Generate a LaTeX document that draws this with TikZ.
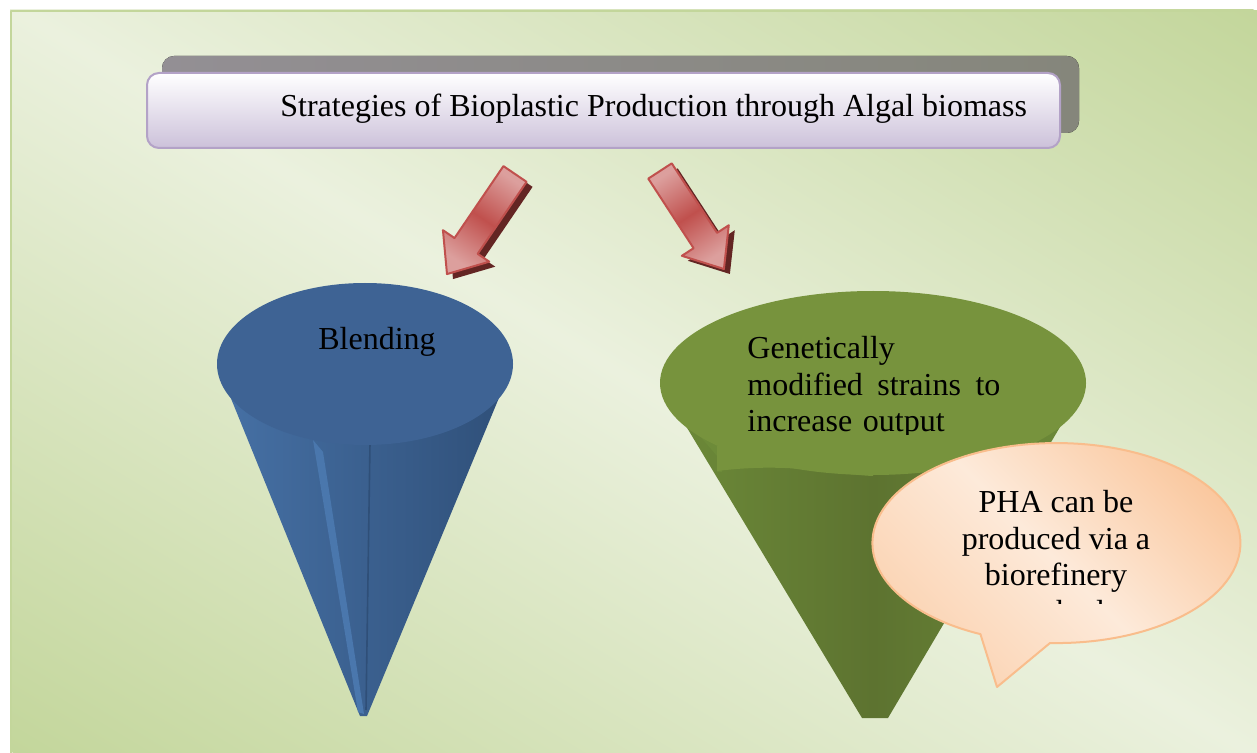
\documentclass[tikz,border=0pt]{standalone}
\usepackage{fontspec}
\setmainfont{Liberation Serif}
\usepackage{tikz}
\usetikzlibrary{positioning}
\definecolor{leaf}{HTML}{C3D69B}
\definecolor{leaflt}{HTML}{EBF1DE}
\definecolor{lilac}{HTML}{B3A2C7}
\definecolor{lilaclt}{HTML}{CCC1DA}
\definecolor{slate}{HTML}{938F94}
\definecolor{slatedk}{HTML}{85867B}
\definecolor{brick}{HTML}{C0504D}
\definecolor{bricklt}{HTML}{DC9F9D}
\definecolor{brickdk}{HTML}{632523}
\definecolor{navy}{HTML}{3E6394}
\definecolor{navydk}{HTML}{2F4F78}
\definecolor{navylt}{HTML}{4A77AD}
\definecolor{olive}{HTML}{77933D}
\definecolor{olivedk}{HTML}{5D7330}
\definecolor{olivelt}{HTML}{6D8B39}
\definecolor{peach}{HTML}{F9BD8C}
\definecolor{peachlt}{HTML}{FDEADA}
\tikzset{fig/.style={line join=round,x=0.5pt,y=-0.5pt},
  txt/.style={font=\fontsize{16}{18.25}\selectfont,inner sep=0pt},
  bigarrow/.style={draw=brick,line width=1,top color=bricklt,bottom color=bricklt,middle color=brick}}
% block arrow: x, y of tail centre, direction, length, shading angle
\newcommand\blockarrow[5]{%
  \fill[brickdk,shift={(#1+6,#2+5)},rotate=#3]
    (0,-14)--(#4-34,-14)--(#4-34,-28)--(#4,0)--(#4-34,28)--(#4-34,14)--(0,14)--cycle;
  \path[bigarrow,shading angle=#5,shift={(#1,#2)},rotate=#3]
    (0,-14)--(#4-34,-14)--(#4-34,-28)--(#4,0)--(#4-34,28)--(#4-34,14)--(0,14)--cycle;}
\newcommand\bubblepath{(997,687)--(1050,643) arc[start angle=92,end angle=-245.6,x radius=184,y radius=100]--cycle}

\begin{document}
\begin{tikzpicture}[fig]
  \useasboundingbox (0,0) rectangle (1257,753);
  \fill[white] (0,0) rectangle (1257,753);
  \begin{scope}
    \clip (10,10) rectangle (1257,753);
    \shade[transform canvas={rotate around={-31:(633,381)}},top color=leaf,bottom color=leaf,middle color=leaflt]
      (-300,-257) rectangle (1566,1019);
  \end{scope}
  \draw[leaf,line width=1] (11,753)--(11,11)--(1257,11);

  % title bar
  \fill[left color=slate,right color=slatedk,rounded corners=6pt] (162,56) rectangle (1079,133);
  \path[draw=lilac,line width=1,top color=white,bottom color=lilaclt,rounded corners=6pt] (147,73) rectangle (1060,148);
  \node[txt,anchor=base west] (title) at (280,117) {Strategies of Bioplastic Production through Algal biomass};

  \blockarrow{515}{174}{-124.2}{121}{-34}
  \blockarrow{660}{171}{-56.9}{117}{33}

  % blue cone
  \shade[left color=navylt!70!navy,right color=navydk] (217,364)--(360,716)--(367,716)--(513,364)--cycle;
  \fill[navylt] (313,440)--(323,452)--(364,714)--(358,712)--cycle;
  \draw[navydk,line width=0.8] (370,443)--(366,710);
  \fill[navy] (365,364) ellipse[x radius=148,y radius=81];
  \node[txt,anchor=base] (blend) at (377,350) {Blending};

  % green cone
  \shade[left color=olivelt,right color=olivelt,middle color=olivedk] (660,383)--(862,718)--(888,718)--(1086,383)--cycle;
  \fill[olivelt] (662,392)--(717,456)--(717,472)--(722,472)--(722,450)--cycle;
  \fill[olive] (873,383) ellipse[x radius=213,y radius=92];
  \fill[olive] (717,446)--(717,471) .. controls (790,462) and (830,474) .. (873,476)--(873,440)--cycle;
  \begin{scope}
    \clip (700,300) rectangle (1060,434);
    \node[txt,anchor=north west,text width=126.5pt,align=left] (gm) at (747,336)
      {Genetically\\ modified\hfill strains\hfill to\\ increase output};
  \end{scope}

  % speech bubble
  \begin{scope}
    \clip \bubblepath;
    \shade[transform canvas={rotate around={-45:(1056,560)}},top color=peach,bottom color=peach!70!peachlt,middle color=peachlt]
      (756,350) rectangle (1356,770);
  \end{scope}
  \draw[peach,line width=1] \bubblepath;
  \begin{scope}
    \clip (880,450) rectangle (1230,603);
    \node[txt,anchor=north,align=center] (pha) at (1056,490) {PHA can be\\produced via a\\biorefinery\\method};
  \end{scope}
\end{tikzpicture}
\end{document}
